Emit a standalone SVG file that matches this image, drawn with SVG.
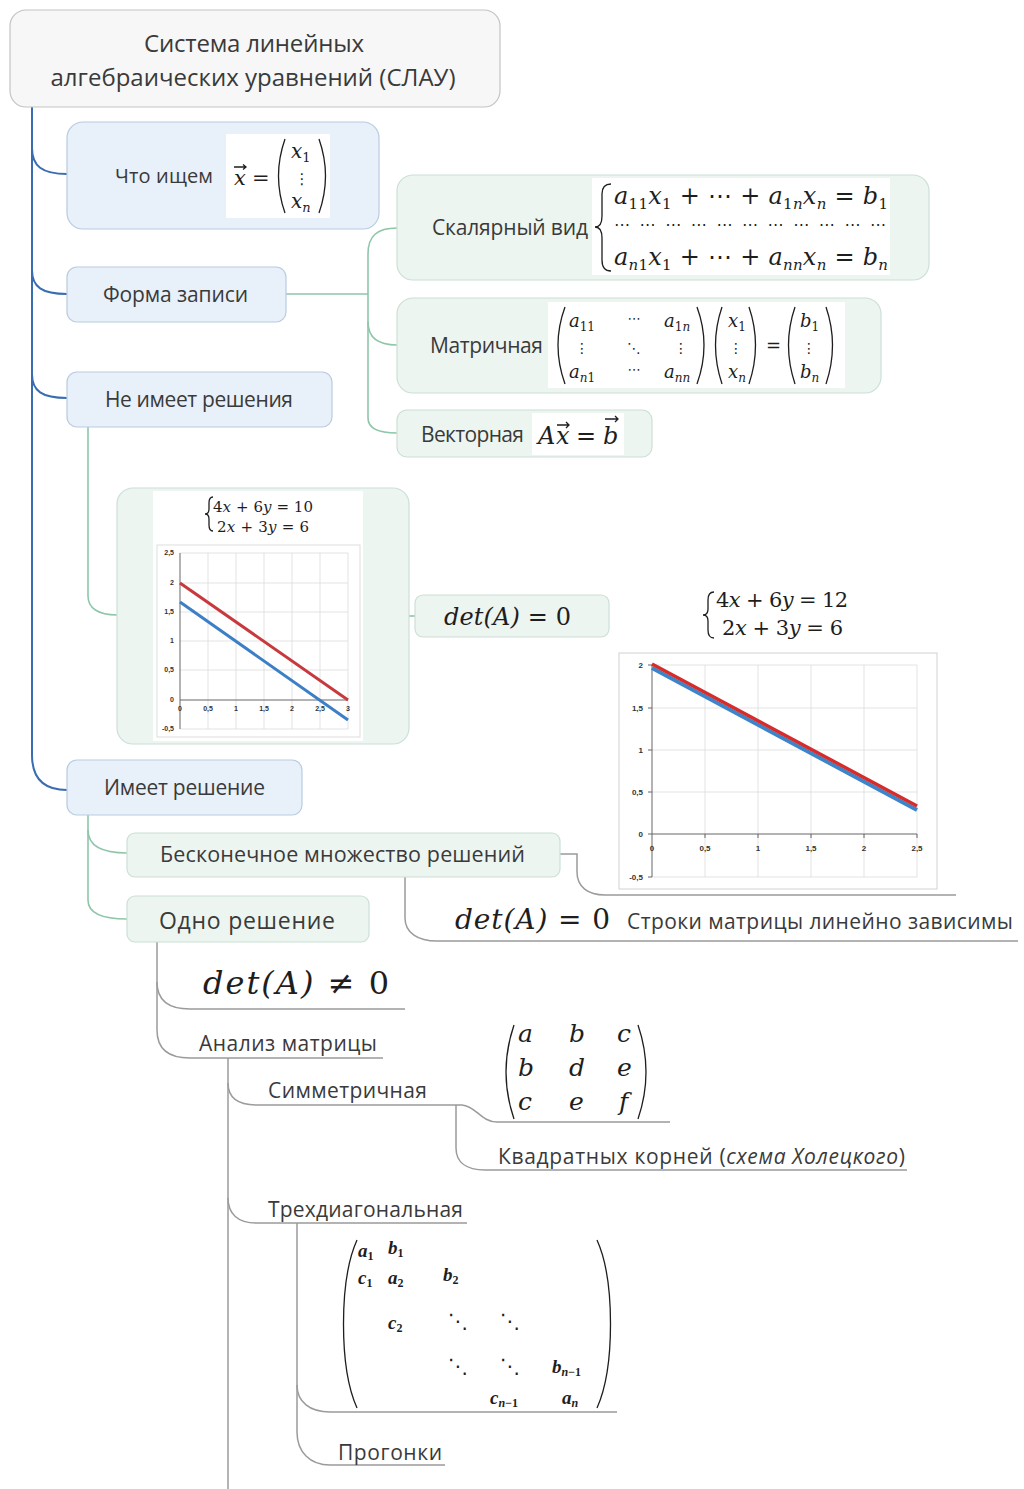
<svg xmlns="http://www.w3.org/2000/svg" width="1024" height="1489" viewBox="0 0 1024 1489">
<defs>
<style>
.t{font-family:"Open Sans","Noto Sans","DejaVu Sans",sans-serif;fill:#3a3a3a}
.m{font-family:"DejaVu Serif","Liberation Serif",serif;font-style:italic;fill:#1e1e1e}
.u{font-style:normal}
.s{font-family:"DejaVu Sans",sans-serif;font-style:normal;fill:#1e1e1e}
.nb{fill:#e8f0f9;stroke:#b8cbe2;stroke-width:1.2}
.ng{fill:#edf5f1;stroke:#cce0d5;stroke-width:1.2}
.cb{fill:none;stroke:#3a6cb0;stroke-width:2}
.cg{fill:none;stroke:#8ec6a9;stroke-width:1.6}
.cy{fill:none;stroke:#9b9b9b;stroke-width:1.5}
.p{fill:none;stroke:#1e1e1e;stroke-width:1.3}
.gr{stroke:#dcdcdc;stroke-width:0.8;fill:none}
.ax{stroke:#666;stroke-width:1;fill:none}
.lb{font-family:"Liberation Sans",sans-serif;font-size:7px;fill:#333;font-weight:bold}
.lb2{font-family:"Liberation Sans",sans-serif;font-size:8px;fill:#333;font-weight:bold}
.tm{font-family:"Liberation Serif",serif;font-style:italic;font-weight:bold;fill:#1e1e1e}
</style>
</defs>
<rect width="1024" height="1489" fill="#ffffff"/>

<g id="connectors">
<path class="cb" d="M32,107 V755 C32,778 44,790 67,790"/>
<path class="cb" d="M32,148 C32,166 42,174 67,174"/>
<path class="cb" d="M32,270 C32,287 42,294 67,294"/>
<path class="cb" d="M32,374 C32,391 42,398 67,398"/>
<path class="cg" d="M286,294 H368"/>
<path class="cg" d="M397,228 C377,228 368,236 368,254 V418 C368,428 377,433 397,433"/>
<path class="cg" d="M368,322 C368,337 377,345 397,345"/>
<path class="cg" d="M88,427 V596 C88,608 98,615 117,615"/>
<path class="cg" d="M409,616 H415"/>
<path class="cg" d="M88,815 V900 C88,912 100,919 127,919"/>
<path class="cg" d="M88,830 C88,845 100,853 127,853"/>
<path class="cy" d="M560,854 H577 V872 C577,887 588,895 605,895 H956"/>
<path class="cy" d="M405,877 V918 C405,933 418,941 437,941 H1018"/>
<path class="cy" d="M157,942 V1030 C157,1048 168,1058 190,1058 H383"/>
<path class="cy" d="M157,982 C157,1000 168,1009 190,1009 H405"/>
<path class="cy" d="M228,1058 V1489"/>
<path class="cy" d="M228,1083 C228,1098 238,1105 257,1105 H462"/>
<path class="cy" d="M462,1105 C476,1106 481,1122 497,1122 H670"/>
<path class="cy" d="M456,1105 V1148 C456,1162 466,1170 485,1170 H907"/>
<path class="cy" d="M228,1198 C228,1214 238,1223 256,1223 H467"/>
<path class="cy" d="M297,1223 V1432 C297,1452 310,1465 330,1465 H445"/>
<path class="cy" d="M297,1385 C297,1402 310,1412 330,1412 H617"/>
</g>

<g id="root">
<rect x="10" y="10" width="490" height="97" rx="16" fill="#f7f7f7" stroke="#c3c3c3" stroke-width="1.2"/>
<text class="t" x="254" y="52" font-size="24" text-anchor="middle" textLength="220">Система линейных</text>
<text class="t" x="253" y="86" font-size="24" text-anchor="middle" textLength="405">алгебраических уравнений (СЛАУ)</text>
</g>

<g id="what">
<rect class="nb" x="67" y="122" width="312" height="107" rx="16"/>
<text class="t" x="115" y="183" font-size="20" textLength="98">Что ищем</text>
<rect x="226" y="134" width="104" height="84" fill="#fff"/>
<text class="m" x="234" y="185" font-size="21">x</text>
<path class="p" stroke-width="1" d="M234,167 H246 M243,164.5 L246,167 L243,169.5"/>
<text class="m u" x="252" y="185" font-size="21">=</text>
<path class="p" d="M285,139 Q272,176 285,213"/>
<path class="p" d="M319,139 Q332,176 319,213"/>
<text class="m" x="291" y="158" font-size="20">x<tspan class="u" font-size="13" dy="4">1</tspan></text>
<text class="s" x="302" y="184" font-size="15" text-anchor="middle">⋮</text>
<text class="m" x="291" y="208" font-size="20">x<tspan font-size="13" dy="4">n</tspan></text>
</g>

<g id="form">
<rect class="nb" x="67" y="267" width="219" height="55" rx="10"/>
<text class="t" x="103" y="302" font-size="21" textLength="145">Форма записи</text>
</g>

<g id="scalar">
<rect class="ng" x="397" y="175" width="532" height="105" rx="16"/>
<text class="t" x="432" y="235" font-size="21" textLength="156">Скалярный вид</text>
<rect x="592" y="178" width="298" height="97" fill="#fff"/>
<path class="p" d="M611,184 Q602,184 602,194 V216 Q602,227 595,227 Q602,227 602,238 V260 Q602,271 611,271"/>
<text class="m" x="614" y="204" font-size="24" textLength="274">a<tspan class="u" font-size="15" dy="5">11</tspan><tspan dy="-5">x</tspan><tspan class="u" font-size="15" dy="5">1</tspan><tspan class="u" dy="-5"> + ⋯ + </tspan>a<tspan font-size="15" dy="5"><tspan class="u">1</tspan>n</tspan><tspan dy="-5">x</tspan><tspan font-size="15" dy="5">n</tspan><tspan class="u" dy="-5"> = </tspan>b<tspan class="u" font-size="15" dy="5">1</tspan></text>
<text class="s" x="614" y="230" font-size="16" textLength="272">⋯ ⋯ ⋯ ⋯ ⋯ ⋯ ⋯ ⋯ ⋯ ⋯ ⋯</text>
<text class="m" x="614" y="265" font-size="24" textLength="274">a<tspan font-size="15" dy="5">n<tspan class="u">1</tspan></tspan><tspan dy="-5">x</tspan><tspan class="u" font-size="15" dy="5">1</tspan><tspan class="u" dy="-5"> + ⋯ + </tspan>a<tspan font-size="15" dy="5">nn</tspan><tspan dy="-5">x</tspan><tspan font-size="15" dy="5">n</tspan><tspan class="u" dy="-5"> = </tspan>b<tspan font-size="15" dy="5">n</tspan></text>
</g>

<g id="matrix">
<rect class="ng" x="397" y="298" width="484" height="95" rx="16"/>
<text class="t" x="430" y="353" font-size="21" textLength="113">Матричная</text>
<rect x="548" y="302" width="297" height="86" fill="#fff"/>
<path class="p" d="M565,307 Q551,345 565,384"/>
<path class="p" d="M697,307 Q711,345 697,384"/>
<text class="m" x="569" y="327" font-size="18">a<tspan class="u" font-size="12" dy="4">11</tspan></text>
<text class="s" x="634" y="323" font-size="13" text-anchor="middle">⋯</text>
<text class="m" x="664" y="327" font-size="18">a<tspan font-size="12" dy="4"><tspan class="u">1</tspan>n</tspan></text>
<text class="s" x="582" y="353" font-size="14" text-anchor="middle">⋮</text>
<text class="s" x="634" y="353" font-size="14" text-anchor="middle">⋱</text>
<text class="s" x="681" y="353" font-size="14" text-anchor="middle">⋮</text>
<text class="m" x="569" y="378" font-size="18">a<tspan font-size="12" dy="4">n<tspan class="u">1</tspan></tspan></text>
<text class="s" x="634" y="374" font-size="13" text-anchor="middle">⋯</text>
<text class="m" x="664" y="378" font-size="18">a<tspan font-size="12" dy="4">nn</tspan></text>
<path class="p" d="M722,307 Q709,345 722,384"/>
<path class="p" d="M749,307 Q762,345 749,384"/>
<text class="m" x="728" y="327" font-size="18">x<tspan class="u" font-size="12" dy="4">1</tspan></text>
<text class="s" x="736" y="353" font-size="14" text-anchor="middle">⋮</text>
<text class="m" x="728" y="378" font-size="18">x<tspan font-size="12" dy="4">n</tspan></text>
<text class="m u" x="766" y="352" font-size="18">=</text>
<path class="p" d="M795,307 Q782,345 795,384"/>
<path class="p" d="M826,307 Q839,345 826,384"/>
<text class="m" x="800" y="327" font-size="18">b<tspan class="u" font-size="12" dy="4">1</tspan></text>
<text class="s" x="809" y="353" font-size="14" text-anchor="middle">⋮</text>
<text class="m" x="800" y="378" font-size="18">b<tspan font-size="12" dy="4">n</tspan></text>
</g>

<g id="vector">
<rect class="ng" x="397" y="410" width="255" height="47" rx="10"/>
<text class="t" x="421" y="442" font-size="21" textLength="103">Векторная</text>
<rect x="532" y="413" width="92" height="42" fill="#fff"/>
<text class="m" x="538" y="444" font-size="24">A</text>
<text class="m" x="556" y="444" font-size="24">x</text>
<path class="p" stroke-width="1.1" d="M557,425 H569 M566,422 L569,425 L566,428"/>
<text class="m u" x="576" y="444" font-size="24">=</text>
<text class="m" x="603" y="444" font-size="24">b</text>
<path class="p" stroke-width="1.1" d="M605,419 H618 M615,416 L618,419 L615,422"/>
</g>

<g id="nosol">
<rect class="nb" x="67" y="372" width="265" height="55" rx="10"/>
<text class="t" x="105" y="407" font-size="21" textLength="188">Не имеет решения</text>
</g>

<g id="chart1">
<rect class="ng" x="117" y="488" width="292" height="256" rx="16"/>
<rect x="153" y="491" width="210" height="250" fill="#fff"/>
<path class="p" stroke-width="1" d="M213,497 Q209,497 209,503 V509 Q209,514 205,514 Q209,514 209,519 V525 Q209,531 213,531"/>
<text class="m" x="213" y="512" font-size="15" textLength="100"><tspan class="u">4</tspan>x<tspan class="u"> + 6</tspan>y<tspan class="u"> = 10</tspan></text>
<text class="m" x="217" y="532" font-size="15" textLength="92"><tspan class="u">2</tspan>x<tspan class="u"> + 3</tspan>y<tspan class="u"> = 6</tspan></text>
<rect x="157" y="545" width="203" height="192" fill="#fff" stroke="#dddddd"/>
<path class="gr" d="M208,553 V729 M236,553 V729 M264,553 V729 M292,553 V729 M320,553 V729 M348,553 V729 M180,553 H348 M180,583 H348 M180,612 H348 M180,641 H348 M180,670 H348 M180,729 H348"/>
<path class="ax" d="M180,553 V729 M180,700 H348"/>
<text class="lb" x="174" y="555" text-anchor="end">2,5</text>
<text class="lb" x="174" y="585" text-anchor="end">2</text>
<text class="lb" x="174" y="614" text-anchor="end">1,5</text>
<text class="lb" x="174" y="643" text-anchor="end">1</text>
<text class="lb" x="174" y="672" text-anchor="end">0,5</text>
<text class="lb" x="174" y="702" text-anchor="end">0</text>
<text class="lb" x="174" y="731" text-anchor="end">-0,5</text>
<text class="lb" x="180" y="711" text-anchor="middle">0</text>
<text class="lb" x="208" y="711" text-anchor="middle">0,5</text>
<text class="lb" x="236" y="711" text-anchor="middle">1</text>
<text class="lb" x="264" y="711" text-anchor="middle">1,5</text>
<text class="lb" x="292" y="711" text-anchor="middle">2</text>
<text class="lb" x="320" y="711" text-anchor="middle">2,5</text>
<text class="lb" x="348" y="711" text-anchor="middle">3</text>
<path d="M180,583 L348,700" stroke="#c8393d" stroke-width="3"/>
<path d="M180,602 L348,720" stroke="#3d7fc6" stroke-width="3"/>
</g>

<g id="det0">
<rect class="ng" x="415" y="595" width="194" height="42" rx="8"/>
<text class="m" x="444" y="625" font-size="24" textLength="127">det(A)<tspan class="u"> = 0</tspan></text>
</g>

<g id="chart2">
<path class="p" stroke-width="1.1" d="M714,592 Q708,592 708,600 V609 Q708,615 703,615 Q708,615 708,621 V630 Q708,638 714,638"/>
<text class="m" x="716" y="607" font-size="21" textLength="132"><tspan class="u">4</tspan>x<tspan class="u"> + 6</tspan>y<tspan class="u"> = 12</tspan></text>
<text class="m" x="722" y="635" font-size="21" textLength="121"><tspan class="u">2</tspan>x<tspan class="u"> + 3</tspan>y<tspan class="u"> = 6</tspan></text>
<rect x="619" y="653" width="318" height="236" fill="#fff" stroke="#d2d2d2"/>
<path class="gr" d="M705,665 V877 M758,665 V877 M811,665 V877 M864,665 V877 M917,665 V877 M652,665 H917 M652,708 H917 M652,750 H917 M652,792 H917 M652,877 H917"/>
<path class="ax" d="M652,665 V877 M652,834 H917 M648,665 H652 M648,708 H652 M648,750 H652 M648,792 H652 M648,834 H652 M648,877 H652 M705,834 V838 M758,834 V838 M811,834 V838 M864,834 V838 M917,834 V838"/>
<text class="lb2" x="643" y="668" text-anchor="end">2</text>
<text class="lb2" x="643" y="711" text-anchor="end">1,5</text>
<text class="lb2" x="643" y="753" text-anchor="end">1</text>
<text class="lb2" x="643" y="795" text-anchor="end">0,5</text>
<text class="lb2" x="643" y="837" text-anchor="end">0</text>
<text class="lb2" x="643" y="880" text-anchor="end">-0,5</text>
<text class="lb2" x="652" y="851" text-anchor="middle">0</text>
<text class="lb2" x="705" y="851" text-anchor="middle">0,5</text>
<text class="lb2" x="758" y="851" text-anchor="middle">1</text>
<text class="lb2" x="811" y="851" text-anchor="middle">1,5</text>
<text class="lb2" x="864" y="851" text-anchor="middle">2</text>
<text class="lb2" x="917" y="851" text-anchor="middle">2,5</text>
<path d="M652,668 L917,810" stroke="#3d84c9" stroke-width="4"/>
<path d="M652,664 L917,806" stroke="#d62c2c" stroke-width="3.5"/>
</g>

<g id="hassol">
<rect class="nb" x="67" y="760" width="235" height="55" rx="10"/>
<text class="t" x="104" y="795" font-size="21" textLength="161">Имеет решение</text>
</g>

<g id="infinite">
<rect class="ng" x="127" y="833" width="433" height="44" rx="8"/>
<text class="t" x="160" y="862" font-size="21.5" textLength="365">Бесконечное множество решений</text>
</g>

<g id="one">
<rect class="ng" x="127" y="896" width="242" height="46" rx="8"/>
<text class="t" x="159" y="929" font-size="23" textLength="176">Одно решение</text>
</g>

<g id="dep">
<text class="m" x="455" y="929" font-size="28" textLength="155">det(A)<tspan class="u"> = 0</tspan></text>
<text class="t" x="627" y="929" font-size="21" textLength="386">Строки матрицы линейно зависимы</text>
</g>

<g id="detne">
<text class="m" x="203" y="994" font-size="32" textLength="186">det(A)<tspan class="u"> ≠ 0</tspan></text>
</g>

<g id="analysis">
<text class="t" x="199" y="1051" font-size="21" textLength="178">Анализ матрицы</text>
</g>

<g id="sym">
<text class="t" x="268" y="1098" font-size="21" textLength="159">Симметричная</text>
</g>

<g id="symmatrix">
<path class="p" d="M514,1025 Q498,1072 514,1119"/>
<path class="p" d="M638,1025 Q654,1072 638,1119"/>
<text class="m" x="518" y="1042" font-size="25">a</text>
<text class="m" x="569" y="1042" font-size="25">b</text>
<text class="m" x="617" y="1042" font-size="25">c</text>
<text class="m" x="518" y="1076" font-size="25">b</text>
<text class="m" x="569" y="1076" font-size="25">d</text>
<text class="m" x="617" y="1076" font-size="25">e</text>
<text class="m" x="518" y="1110" font-size="25">c</text>
<text class="m" x="569" y="1110" font-size="25">e</text>
<text class="m" x="619" y="1110" font-size="25">f</text>
</g>

<g id="cholesky">
<text class="t" x="498" y="1164" font-size="21" textLength="407">Квадратных корней (<tspan font-style="italic">схема Холецкого</tspan>)</text>
</g>

<g id="tridiag">
<text class="t" x="268" y="1217" font-size="21" textLength="195">Трехдиагональная</text>
</g>

<g id="tridmatrix">
<path class="p" stroke-width="1.6" d="M357,1240 C339,1280 339,1368 357,1408"/>
<path class="p" stroke-width="1.6" d="M597,1240 C615,1280 615,1368 597,1408"/>
<text class="tm" x="358" y="1257" font-size="19">a<tspan class="u" font-size="12" dy="3">1</tspan></text>
<text class="tm" x="388" y="1254" font-size="19">b<tspan class="u" font-size="12" dy="3">1</tspan></text>
<text class="tm" x="358" y="1284" font-size="19">c<tspan class="u" font-size="12" dy="3">1</tspan></text>
<text class="tm" x="388" y="1284" font-size="19">a<tspan class="u" font-size="12" dy="3">2</tspan></text>
<text class="tm" x="443" y="1281" font-size="19">b<tspan class="u" font-size="12" dy="3">2</tspan></text>
<text class="tm" x="388" y="1329" font-size="19">c<tspan class="u" font-size="12" dy="3">2</tspan></text>
<text class="s" x="458" y="1328" font-size="20" text-anchor="middle">⋱</text>
<text class="s" x="510" y="1328" font-size="20" text-anchor="middle">⋱</text>
<text class="s" x="458" y="1373" font-size="20" text-anchor="middle">⋱</text>
<text class="s" x="510" y="1373" font-size="20" text-anchor="middle">⋱</text>
<text class="tm" x="552" y="1373" font-size="19">b<tspan font-size="12" dy="3">n<tspan class="u">−1</tspan></tspan></text>
<text class="tm" x="490" y="1404" font-size="19">c<tspan font-size="12" dy="3">n<tspan class="u">−1</tspan></tspan></text>
<text class="tm" x="562" y="1404" font-size="19">a<tspan font-size="12" dy="3">n</tspan></text>
</g>

<g id="sweep">
<text class="t" x="338" y="1460" font-size="21" textLength="104">Прогонки</text>
</g>
</svg>
